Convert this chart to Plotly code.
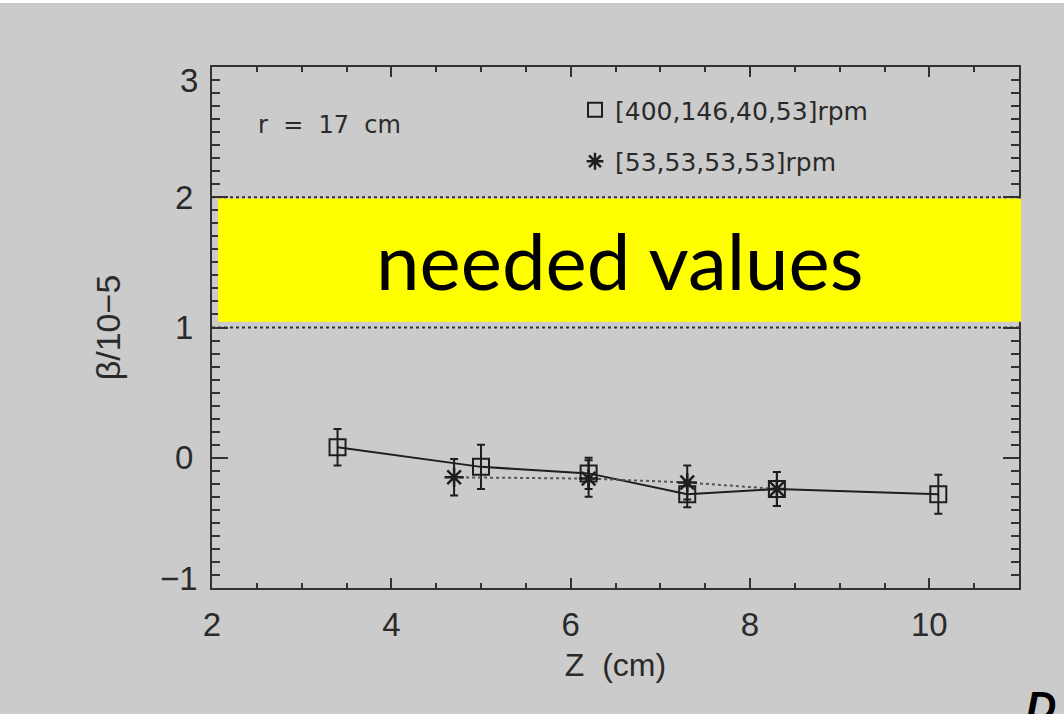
import plotly.graph_objects as go

# ---- data ----
z_fast = [3.4, 5.0, 6.2, 7.3, 8.3, 10.1]
beta_fast = [0.08, -0.07, -0.12, -0.28, -0.24, -0.28]
err_fast = [0.14, 0.17, 0.12, 0.10, 0.13, 0.15]

z_slow = [4.7, 6.2, 7.3, 8.3]
beta_slow = [-0.15, -0.16, -0.19, -0.24]
err_slow = [0.14, 0.14, 0.13, 0.13]

name_fast = "[400,146,40,53]rpm"
name_slow = "[53,53,53,53]rpm"
note_text = "r  =  17  cm"
band_low, band_high = 1.045, 1.99
ref_lines = [1, 2]
x_range = [2, 11]
y_range = [-1, 3]
x_tickvals = [2, 4, 6, 8, 10]
y_tickvals = [-1, 0, 1, 2, 3]

W, H = 1064, 714
L, R, T, B = 212, 45, 67, 126
PW, PH = W - L - R, H - T - B

def px_to_paper_x(px):
    return (px - L) / PW

def px_to_paper_y(py):
    return (H - B - py) / PH

BG = "#cbcbcb"
INK = "#1e1e1e"
TICKFONT = dict(family="Liberation Sans", size=33, color="#2a2a2a")

fig = go.Figure()

fig.add_trace(go.Scatter(
    x=z_fast, y=beta_fast, mode="lines+markers", showlegend=False,
    line=dict(color=INK, width=2),
    marker=dict(symbol="square-open", size=16, color=INK, line=dict(width=2, color=INK)),
    error_y=dict(type="data", array=err_fast, color=INK, thickness=2, width=4),
))
fig.add_trace(go.Scatter(
    x=z_slow, y=beta_slow, mode="lines+markers", showlegend=False,
    line=dict(color="#555555", width=2, dash="dot"),
    marker=dict(symbol="asterisk-open", size=16, color=INK, line=dict(width=2.5, color=INK)),
    error_y=dict(type="data", array=err_slow, color=INK, thickness=2, width=4),
))
# legend entries (marker only)
fig.add_trace(go.Scatter(
    x=[None], y=[None], mode="markers", name=name_fast, legendgroup="a",
    marker=dict(symbol="square-open", size=14, color=INK, line=dict(width=2, color=INK)),
))
fig.add_trace(go.Scatter(
    x=[None], y=[None], mode="markers", name=name_slow, legendgroup="b",
    marker=dict(symbol="asterisk-open", size=14, color=INK, line=dict(width=2.5, color=INK)),
))

shapes = [
    dict(type="rect", xref="paper", yref="paper", x0=-1, x1=2,
         y0=px_to_paper_y(3), y1=px_to_paper_y(-2), fillcolor="white", line_width=0, layer="below"),
    dict(type="rect", xref="paper", yref="y", x0=px_to_paper_x(218), x1=px_to_paper_x(1021),
         y0=band_low, y1=band_high, fillcolor="#ffff00", line_width=0, layer="above"),
]
for yv in ref_lines:
    shapes.append(dict(type="line", xref="paper", yref="y", x0=0, x1=1, y0=yv, y1=yv,
                       line=dict(color="#333333", width=2, dash="dot"), layer="above"))

annotations = [
    dict(text="needed values", xref="paper", yref="y", x=px_to_paper_x(620),
         y=(band_low + band_high) / 2, xanchor="center", yanchor="middle", showarrow=False,
         font=dict(family="Lato", size=78, color="black")),
    dict(text=note_text, xref="paper", yref="paper", x=px_to_paper_x(256), y=px_to_paper_y(125),
         xanchor="left", yanchor="middle", showarrow=False,
         font=dict(family="DejaVu Sans", size=24, color="#2a2a2a")),
    dict(text="<b><i>D</i></b>", xref="paper", yref="paper", x=px_to_paper_x(1024), y=px_to_paper_y(706),
         xanchor="left", yanchor="middle", showarrow=False,
         font=dict(family="Liberation Sans", size=42, color="black")),
    # end labels of the y axis sit inside the frame, as in the reference
    dict(text=str(y_tickvals[-1]), xref="paper", yref="y", x=0, y=y_tickvals[-1], xanchor="right",
         yanchor="middle", xshift=-12, yshift=-13, showarrow=False, font=TICKFONT),
    dict(text="\u2212" + str(abs(y_tickvals[0])), xref="paper", yref="y", x=0, y=y_tickvals[0],
         xanchor="right", yanchor="middle", xshift=-12, yshift=10, showarrow=False, font=TICKFONT),
]

fig.update_layout(
    width=W, height=H,
    margin=dict(l=L, r=R, t=T, b=B),
    paper_bgcolor=BG, plot_bgcolor=BG,
    shapes=shapes, annotations=annotations,
    showlegend=True,
    legend=dict(x=px_to_paper_x(575), y=px_to_paper_y(87), xanchor="left", yanchor="top",
                bgcolor="rgba(0,0,0,0)", font=dict(family="DejaVu Sans", size=25, color="#2a2a2a"),
                traceorder="grouped", tracegroupgap=16, itemwidth=30),
    xaxis=dict(
        range=x_range, tickvals=x_tickvals, ticks="inside", ticklen=10, tickwidth=2,
        tickcolor="#333333", showline=True, linecolor="#333333", linewidth=2, mirror="allticks",
        showgrid=False, zeroline=False, tickfont=TICKFONT, ticklabelstandoff=6,
        minor=dict(dtick=0.5, ticks="inside", ticklen=5, tickwidth=2, tickcolor="#333333", showgrid=False),
        title=dict(text="Z  (cm)", font=dict(family="Liberation Sans", size=32, color="#2a2a2a"), standoff=12),
    ),
    yaxis=dict(
        range=y_range, tickvals=y_tickvals, ticktext=["", "0", "1", "2", ""], ticks="inside",
        ticklen=16, tickwidth=2, tickcolor="#333333", showline=True, linecolor="#333333", linewidth=2,
        mirror="allticks", showgrid=False, zeroline=False, tickfont=TICKFONT, ticklabelstandoff=10,
        minor=dict(dtick=0.1, ticks="inside", ticklen=8, tickwidth=2, tickcolor="#333333", showgrid=False),
        title=dict(text="\u03b2/10\u22125", font=dict(family="Liberation Sans", size=34, color="#2a2a2a"), standoff=44),
    ),
)

fig.write_html("out.html", config={"displayModeBar": False},
               post_script="document.body.style.margin='0';document.body.style.padding='0';")
